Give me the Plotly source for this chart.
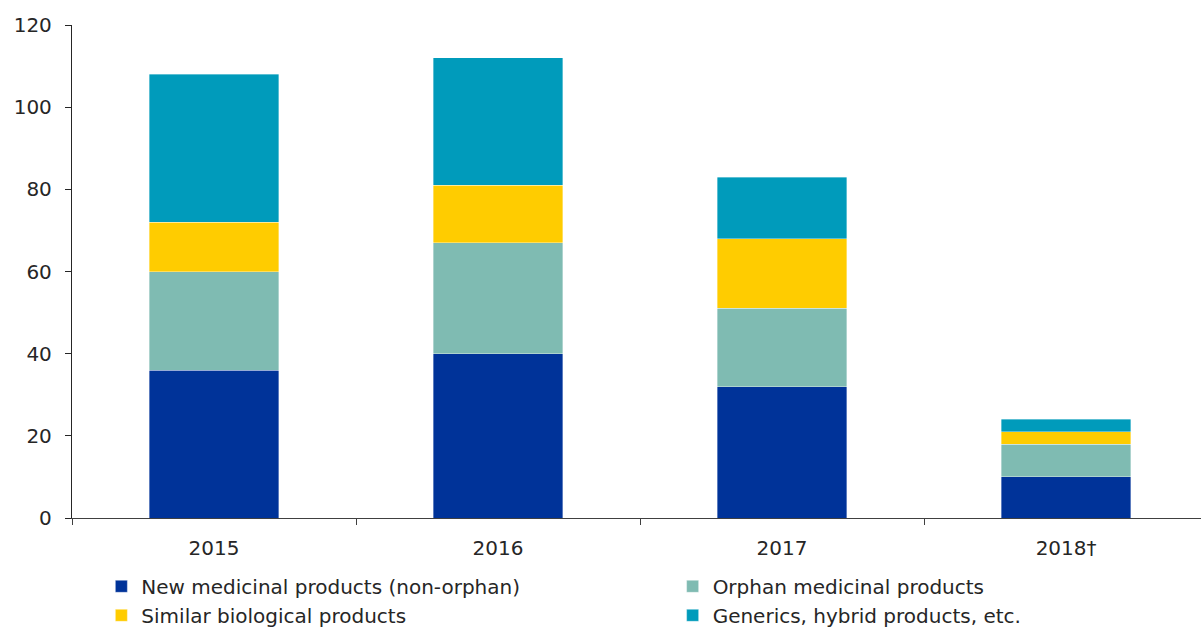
import plotly.graph_objects as go

years = ["2015", "2016", "2017", "2018†"]
new_non_orphan = [36, 40, 32, 10]
orphan = [24, 27, 19, 8]
similar_bio = [12, 14, 17, 3]
generics = [36, 31, 15, 3]

# (name, values, colour, legend column)
series = [
    ("New medicinal products (non-orphan)", new_non_orphan, "#003399", "legend"),
    ("Orphan medicinal products", orphan, "#7FBBB2", "legend2"),
    ("Similar biological products", similar_bio, "#FFCC00", "legend"),
    ("Generics, hybrid products, etc.", generics, "#009BBB", "legend2"),
]

fig = go.Figure()
for name, vals, col, leg in series:
    fig.add_trace(go.Bar(
        x=years, y=vals, name=name, legend=leg,
        marker=dict(color=col, line=dict(color="rgba(255,255,255,0.6)", width=0.6)),
        width=0.455,
    ))

font = "Verdana, DejaVu Sans, sans-serif"
legfont = dict(size=20, color="#262626")
fig.update_layout(
    barmode="stack",
    width=1201, height=628,
    margin=dict(l=72, r=0, t=25, b=110, autoexpand=False),
    paper_bgcolor="white", plot_bgcolor="white",
    font=dict(family=font, size=20, color="#262626"),
    showlegend=True,
    legend=dict(
        orientation="v", x=0.026, xanchor="left", y=-0.099, yanchor="top",
        font=legfont, traceorder="normal", itemwidth=30, tracegroupgap=0,
        bgcolor="rgba(0,0,0,0)",
    ),
    legend2=dict(
        orientation="v", x=0.532, xanchor="left", y=-0.099, yanchor="top",
        font=legfont, traceorder="normal", itemwidth=30, tracegroupgap=0,
        bgcolor="rgba(0,0,0,0)",
    ),
    xaxis=dict(
        type="category", range=[-0.5, 3.475],
        showline=True, linecolor="#404040", linewidth=1.3,
        ticks="outside", tickson="boundaries", ticklen=6, tickcolor="#404040",
        showgrid=False, zeroline=False, ticklabelstandoff=12,
        tickfont=dict(size=20, color="#262626"),
    ),
    yaxis=dict(
        range=[0, 120], dtick=20,
        showline=True, linecolor="#262626", linewidth=1.3,
        ticks="outside", ticklen=6, tickcolor="#262626",
        showgrid=False, zeroline=False, ticklabelstandoff=9,
        tickfont=dict(size=20, color="#262626"),
    ),
)

fig.write_html("out.html")
